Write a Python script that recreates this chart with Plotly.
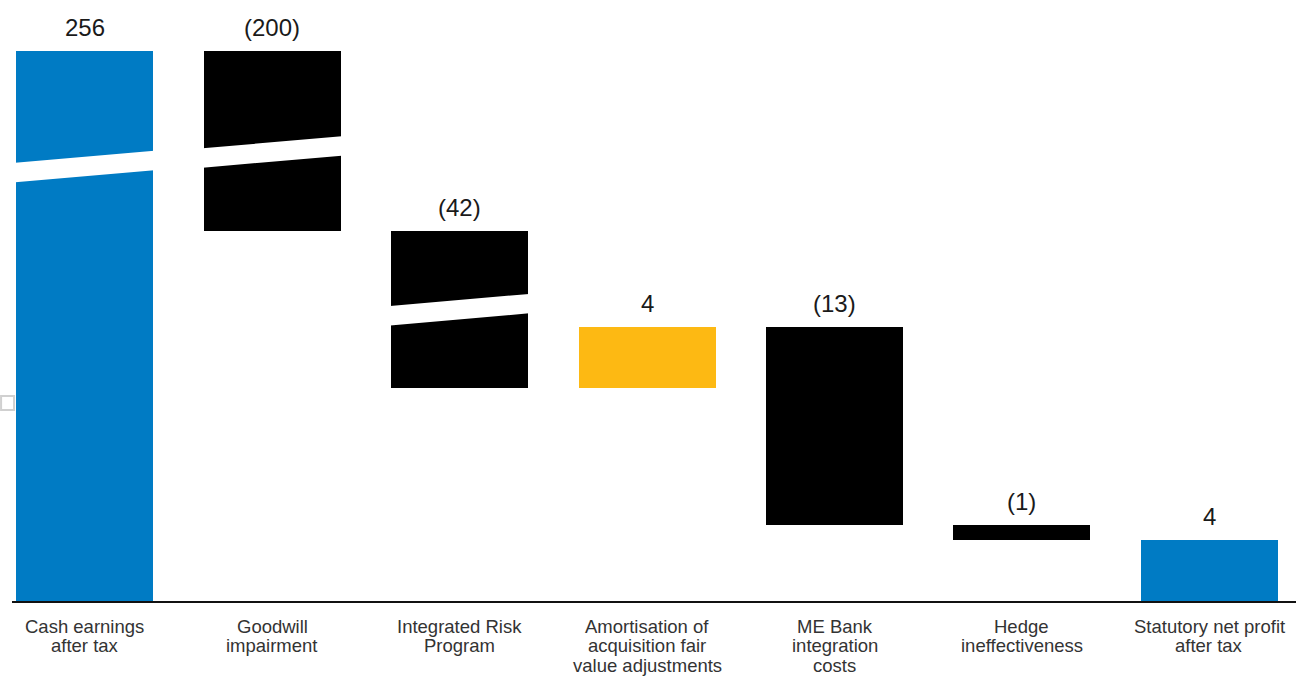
import numpy as np
import plotly.graph_objects as go

# ---- data ----
categories = [
    "Cash earnings<br>after tax",
    "Goodwill<br>impairment",
    "Integrated Risk<br>Program",
    "Amortisation of<br>acquisition fair<br>value adjustments",
    "ME Bank<br>integration<br>costs",
    "Hedge<br>ineffectiveness",
    "Statutory net profit<br>after tax",
]
values = [256, -200, -42, 4, -13, -1, 4]
measures = ["absolute", "relative", "relative", "relative", "relative", "relative", "total"]

# ---- style ----
BLUE = "#007BC4"
BLACK = "#000000"
YELLOW = "#FDB913"
FONT = "Liberation Sans, Arial, sans-serif"

# broken (compressed) value axis: real value -> drawn value
BREAK_IN = [0, 18, 56, 256]
BREAK_OUT = [0, 18, 24.29, 36.14]
# where along each bar the break mark sits (fraction of drawn height), None = no break
break_frac = [0.79, 0.44, 0.5, None, None, None, None]
BAR_W = 0.731
LABEL_FIRST = -25     # px below axis for first line of a category label
LABEL_STEP = 19.5     # px line spacing of category labels

# ---- compute waterfall levels ----
starts, ends = [], []
level = 0
for v, m in zip(values, measures):
    if m == "absolute":
        s, e = 0, v
        level = v
    elif m == "relative":
        s, e = level, level + v
        level = e
    else:
        s, e = 0, level
    starts.append(s)
    ends.append(e)

d_start = np.interp(starts, BREAK_IN, BREAK_OUT)
d_end = np.interp(ends, BREAK_IN, BREAK_OUT)
bases = np.minimum(d_start, d_end)
heights = np.abs(d_end - d_start)
tops = np.maximum(d_start, d_end)

colors = []
for v, m in zip(values, measures):
    if m in ("absolute", "total"):
        colors.append(BLUE)
    elif v < 0:
        colors.append(BLACK)
    else:
        colors.append(YELLOW)

labels = [f"({abs(v)})" if v < 0 else f"{v}" for v in values]
xi = list(range(len(categories)))

fig = go.Figure()
fig.add_trace(go.Bar(
    x=xi, y=heights, base=bases, width=BAR_W,
    marker=dict(color=colors, line=dict(width=0)),
    hoverinfo="skip", showlegend=False,
))

annotations = []
for i, t in enumerate(labels):
    annotations.append(dict(
        x=i, y=tops[i], text=t, showarrow=False, xanchor="center", yanchor="bottom",
        yshift=8, font=dict(family=FONT, size=24, color="#1a1a1a"),
    ))

# category labels (one annotation per line for tight line spacing)
for i, cat in enumerate(categories):
    for k, line in enumerate(cat.split("<br>")):
        annotations.append(dict(
            x=i, xref="x", y=0, yref="paper", text=line, showarrow=False,
            xanchor="center", yanchor="middle", yshift=LABEL_FIRST - k * LABEL_STEP,
            font=dict(family=FONT, size=18.5, color="#333333"),
        ))

shapes = []
slope_half = 0.395
gap_half = 0.64
for i, f in enumerate(break_frac):
    if f is None:
        continue
    yc = bases[i] + f * heights[i]
    x0 = i - BAR_W / 2 - 0.005
    x1 = i + BAR_W / 2 + 0.005
    path = (f"M {x0},{yc - slope_half - gap_half} L {x1},{yc + slope_half - gap_half} "
            f"L {x1},{yc + slope_half + gap_half} L {x0},{yc - slope_half + gap_half} Z")
    shapes.append(dict(type="path", path=path, xref="x", yref="y",
                       fillcolor="white", line=dict(width=0), layer="above"))

# small grey box remnant at the left edge
shapes.append(dict(type="rect", xref="paper", yref="paper",
                   x0=-0.0085, x1=0.0016, y0=0.318, y1=0.341,
                   line=dict(color="#d0d0d0", width=2), fillcolor="rgba(0,0,0,0)"))

fig.update_layout(
    width=1296, height=676,
    margin=dict(l=12, r=0, t=0, b=75, autoexpand=False),
    paper_bgcolor="white", plot_bgcolor="white",
    font=dict(family=FONT, size=18.5, color="#333333"),
    annotations=annotations, shapes=shapes,
    xaxis=dict(
        range=[-0.388, 6.462], tickvals=xi, showticklabels=False,
        showline=True, linecolor="#111111", linewidth=2,
        ticks="", showgrid=False, zeroline=False, fixedrange=True,
        automargin=False,
    ),
    yaxis=dict(visible=False, range=[0, 39.49], fixedrange=True, automargin=False),
    bargap=0,
)

fig.write_html("out.html")
